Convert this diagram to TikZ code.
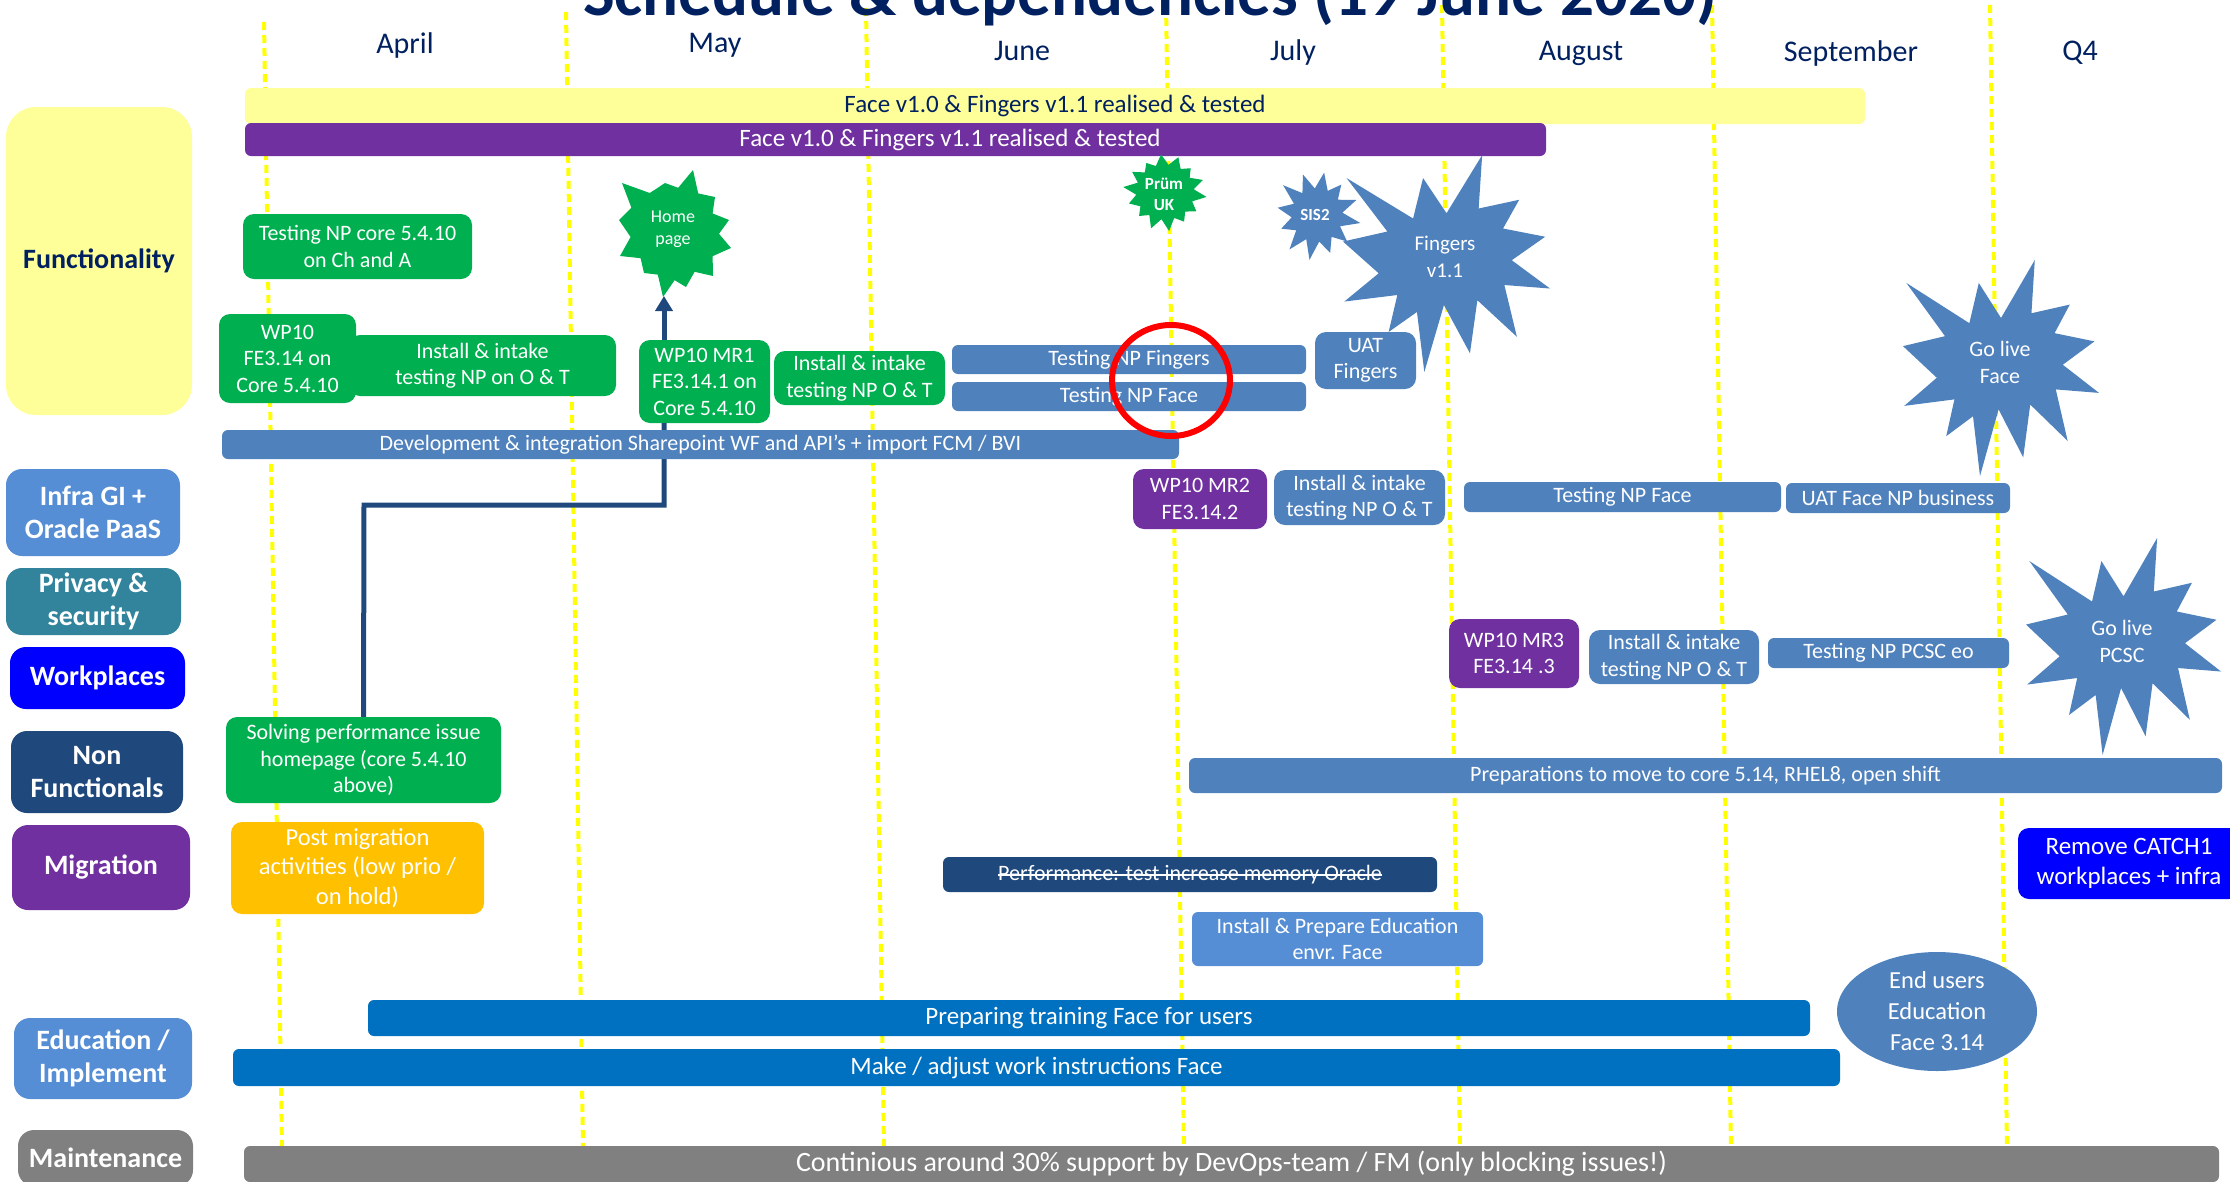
\documentclass[tikz,border=0pt]{standalone}
\usepackage{fontspec}
\setmainfont{Carlito}
\usetikzlibrary{arrows.meta,shapes.geometric}

\definecolor{navy}{HTML}{002060}
\definecolor{paleyel}{HTML}{FFFF99}
\definecolor{grn}{HTML}{00B050}
\definecolor{purp}{HTML}{7030A0}
\definecolor{steel}{HTML}{4F81BD}
\definecolor{lsteel}{HTML}{558ED5}
\definecolor{tealc}{HTML}{31849B}
\definecolor{wpblue}{HTML}{0000FF}
\definecolor{dkblue}{HTML}{1F497D}
\definecolor{orng}{HTML}{FFC000}
\definecolor{trblue}{HTML}{0070C0}
\definecolor{gry}{HTML}{808080}
\definecolor{dashyel}{HTML}{FFFF00}

% box from its corner coordinates: name, x1, y1, x2, y2, style, text
\newcommand\placebox[7]{%
  \node[#6, minimum width={(#4-#2)*1pt}, minimum height={(#5-#3)*1pt}]
    (#1) at ({(#2+#4)/2},{(#3+#5)/2}) {#7};}

% "Explosion 1" outline fitted into a box: x0, y0, width, height, fill
\newcommand\explosion[5]{%
  \begin{scope}[shift={(#1,#2)}, xscale=#3/216, yscale=#4/216]
    \fill[#5] (108,58) -- (145.22,0) -- (141.55,53.25) -- (183.80,44.57)
      -- (167.02,73.15) -- (210.97,81.37) -- (176.07,104.75) -- (216,132.90)
      -- (168.37,129.42) -- (181.45,180.95) -- (140.20,144.57) -- (132.47,197.37)
      -- (105.32,149.35) -- (84.85,216) -- (77.15,156.27) -- (47.62,176.17)
      -- (56.67,139.37) -- (1.35,145.87) -- (37.22,117.75) -- (0,86.15)
      -- (46.27,76.17) -- (3.70,22.95) -- (73.12,63.20) -- (83.52,22.95) -- cycle;
  \end{scope}}

% small spiky badge: cx, cy, rx, ry, last vertex index, inner ratio, rotation, fill
\newcommand\burst[8]{%
  \fill[#8] plot[samples at={0,...,#5}, variable=\k]
    ({#1 + #3*(ifthenelse(mod(\k,2)==0, 1+0.08*sin(\k*131), #6))*cos(\k*360/(#5+1)+#7)},
     {#2 + #4*(ifthenelse(mod(\k,2)==0, 1+0.08*sin(\k*131), #6))*sin(\k*360/(#5+1)+#7)}) -- cycle;}

\tikzset{
  f22/.style={font=\fontsize{22}{26.5}\selectfont},
  f25/.style={font=\fontsize{25}{30}\selectfont},
  monthline/.style={draw=dashyel, line width=4pt, dash pattern=on 8pt off 5pt},
  month/.style={anchor=base, text=navy, font=\fontsize{30}{36}\selectfont},
  lbl/.style={rounded corners=16pt, inner sep=0pt, align=center, text=white,
    font=\bfseries\fontsize{28}{32.5}\selectfont},
  task/.style={rounded corners=11pt, inner sep=0pt, align=center, text=white, f22},
  bar/.style={task, rounded corners=6pt},
  startext/.style={align=center, text=white, inner sep=0pt},
  conn/.style={draw=dkblue, line width=5pt},
}

\begin{document}
\begin{tikzpicture}[x=1pt,y=-1pt]
\useasboundingbox (0,0) rectangle (2230,1181);
\clip (0,0) rectangle (2230,1181);

% month separators
\foreach \xa/\ya/\xb in {264/22/282, 566/12/583, 866/8/884, 1166/5/1184,
                         1442/5/1460, 1712/5/1731, 1990/5/2007}
  \draw[monthline] (\xa,\ya) -- (\xb,1148);

% heading and months
\node[anchor=base, text=navy, font=\bfseries\fontsize{67}{80}\selectfont] (title)
  at (1150,15) {Schedule \& dependencies (19 June 2020)};
\node[month] (mapr) at (405,53) {April};
\node[month] (mmay) at (715,52) {May};
\node[month] (mjun) at (1022,60) {June};
\node[month] (mjul) at (1293,60) {July};
\node[month] (maug) at (1581,60) {August};
\node[month] (msep) at (1851,61) {September};
\node[month] (mq4)  at (2080,60) {Q4};

% row labels
\placebox{lfunc}{6}{107}{192}{415}{lbl,fill=paleyel,text=navy,rounded corners=30pt}{Functionality}
\placebox{linfra}{6}{469}{180}{556}{lbl,fill=lsteel}{Infra GI +\\Oracle PaaS}
\placebox{lpriv}{6}{568}{181}{635}{lbl,fill=tealc}{Privacy \&\\security}
\placebox{lwork}{10}{647}{185}{709}{lbl,fill=wpblue}{Workplaces}
\placebox{lnonf}{11}{731}{183}{813}{lbl,fill=dkblue}{Non\\Functionals}
\placebox{lmigr}{12}{825}{190}{910}{lbl,fill=purp}{Migration}
\placebox{ledu}{14}{1018}{192}{1099}{lbl,fill=lsteel}{Education /\\Implement}
\placebox{lmaint}{18}{1130}{193}{1186}{lbl,fill=gry}{Maintenance}

% connectors (behind the boxes)
\coordinate (homebot) at (664,296);
\coordinate (elbow) at (364,505);
\placebox{solve}{226}{717}{501}{803}{task,fill=grn}{Solving performance issue\\homepage (core 5.4.10\\above)}
\placebox{mr1}{639}{340}{770}{423}{task,fill=grn}{WP10 MR1\\FE3.14.1 on\\Core 5.4.10}
\draw[conn] (solve.north) -- (elbow) -| (homebot |- mr1.south);
\draw[conn, -{Triangle[width=17pt,length=15pt]}] (homebot |- mr1.north) -- (homebot);

% release bars
\placebox{ybar}{245}{88}{1865}{124}{bar,fill=paleyel,text=navy,f25}{Face v1.0 \& Fingers v1.1 realised \& tested}
\placebox{pbar}{245}{123}{1546}{156}{bar,fill=purp}{}
\node[startext, f25] (pbartext) at (950,139.5) {Face v1.0 \& Fingers v1.1 realised \& tested};

% functionality
\placebox{tnp}{243}{214}{472}{279}{task,fill=grn}{Testing NP core 5.4.10\\on Ch and A}
\placebox{inst1}{349}{335}{616}{396}{task,fill=grn}{Install \& intake\\testing NP on O \& T}
\placebox{wp10}{219}{314}{356}{403}{task,fill=grn}{WP10\\FE3.14 on\\Core 5.4.10}
\placebox{inst2}{774}{351}{945}{405}{task,fill=grn}{Install \& intake\\testing NP O \& T}
\placebox{dev}{222}{430}{1179}{459}{bar,fill=steel}{Development \& integration Sharepoint WF and API’s + import FCM / BVI}
\placebox{tnpf}{952}{345}{1306}{374}{bar,fill=steel}{Testing NP Fingers}
\placebox{tnpface}{952}{382}{1306}{411}{bar,fill=steel}{Testing NP Face}
\placebox{uatf}{1315}{332}{1416}{389}{task,fill=steel}{UAT\\Fingers}

% milestones
\fill[grn] (622,183) -- (649.8,193) -- (665,183) -- (678.2,187.8) -- (693,170)
  -- (698.2,193.4) -- (715,197) -- (712.6,213.4) -- (729,220) -- (719,233.8)
  -- (731,248) -- (712.6,256.2) -- (713,276) -- (694.6,271.8) -- (686,287)
  -- (674.6,280.2) -- (663,297) -- (657.8,274.6) -- (644,273) -- (640.6,258.2)
  -- (620,256) -- (630.6,237) -- (619,220) -- (631.4,207.8) -- cycle;
\node[startext, font=\fontsize{18}{22}\selectfont] (home) at (673,229) {Home\\page};
\burst{1165}{192}{39}{37}{27}{0.74}{-70}{grn}
\node[startext, font=\bfseries\fontsize{17}{21}\selectfont] (prum) at (1164,194) {Prüm\\UK};
\explosion{1343}{155}{207}{217}{steel}
\burst{1317}{215}{41}{43}{23}{0.62}{-80}{steel}
\node[startext, font=\bfseries\fontsize{17}{21}\selectfont] (sis) at (1315,215) {SIS2};
\node[startext, font=\fontsize{21}{27}\selectfont] (fing) at (1445,257) {Fingers\\v1.1};
\explosion{1903}{260}{196}{216}{steel}
\node[startext, font=\fontsize{22}{27}\selectfont] (golf) at (2000,362) {Go live\\Face};
\explosion{2026}{538}{195}{217}{steel}
\node[startext, font=\fontsize{22}{27}\selectfont] (golp) at (2122,641) {Go live\\PCSC};

\node[draw=red, line width=6pt, ellipse, minimum width=118pt, minimum height=111pt,
  inner sep=0pt] (mark) at (1171,380.5) {};

% infrastructure
\placebox{mr2}{1133}{469}{1267}{529}{task,fill=purp}{WP10 MR2\\FE3.14.2}
\placebox{inst3}{1274}{470}{1445}{525}{task,fill=steel}{Install \& intake\\testing NP O \& T}
\placebox{tnpface2}{1464}{482}{1781}{512}{bar,fill=steel}{Testing NP Face}
\placebox{uatface}{1786}{483}{2010}{513}{bar,fill=steel}{UAT Face NP business}

% workplaces
\placebox{mr3}{1449}{619}{1579}{688}{task,fill=purp}{WP10 MR3\\FE3.14 .3}
\placebox{inst4}{1589}{630}{1759}{684}{task,fill=steel}{Install \& intake\\testing NP O \& T}
\placebox{pcsc}{1768}{638}{2009}{668}{bar,fill=steel}{Testing NP PCSC eo}

% non functionals and migration
\placebox{prep}{1189}{758}{2222}{793}{bar,fill=steel}{Preparations to move to core 5.14, RHEL8, open shift}
\placebox{post}{231}{822}{484}{914}{task,fill=orng,font=\fontsize{24.5}{29.5}\selectfont}{Post migration\\activities (low prio /\\on hold)}
\placebox{perf}{943}{857}{1437}{892}{bar,fill=dkblue}{}
\node[startext, f22] (perftext) at (perf.center) {Performance: test increase memory Oracle};
\draw[white, line width=1.6pt] ([yshift=5.5pt]perftext.base west) -- ([yshift=5.5pt]perftext.base east);
\placebox{eduenv}{1192}{912}{1483}{966}{bar,fill=lsteel}{Install \& Prepare Education\\envr. Face}
\placebox{remove}{2018}{828}{2240}{899}{task,fill=wpblue,f25}{Remove CATCH1\\workplaces + infra}

% education
\placebox{train}{368}{1000}{1810}{1036}{bar,fill=trblue,f25}{Preparing training Face for users}
\placebox{make}{233}{1049}{1840}{1086}{bar,fill=trblue,f25}{Make / adjust work instructions Face}
\node[ellipse, fill=steel, minimum width=200pt, minimum height=119pt, inner sep=0pt,
  align=center, text=white, font=\fontsize{24.5}{31}\selectfont] (endusers)
  at (1937,1011.5) {End users\\Education\\Face 3.14};

% maintenance
\placebox{maint}{244}{1146}{2219}{1182}{bar,fill=gry,font=\fontsize{28}{33}\selectfont}{Continious around 30\% support by DevOps-team / FM (only blocking issues!)}
\end{tikzpicture}
\end{document}
